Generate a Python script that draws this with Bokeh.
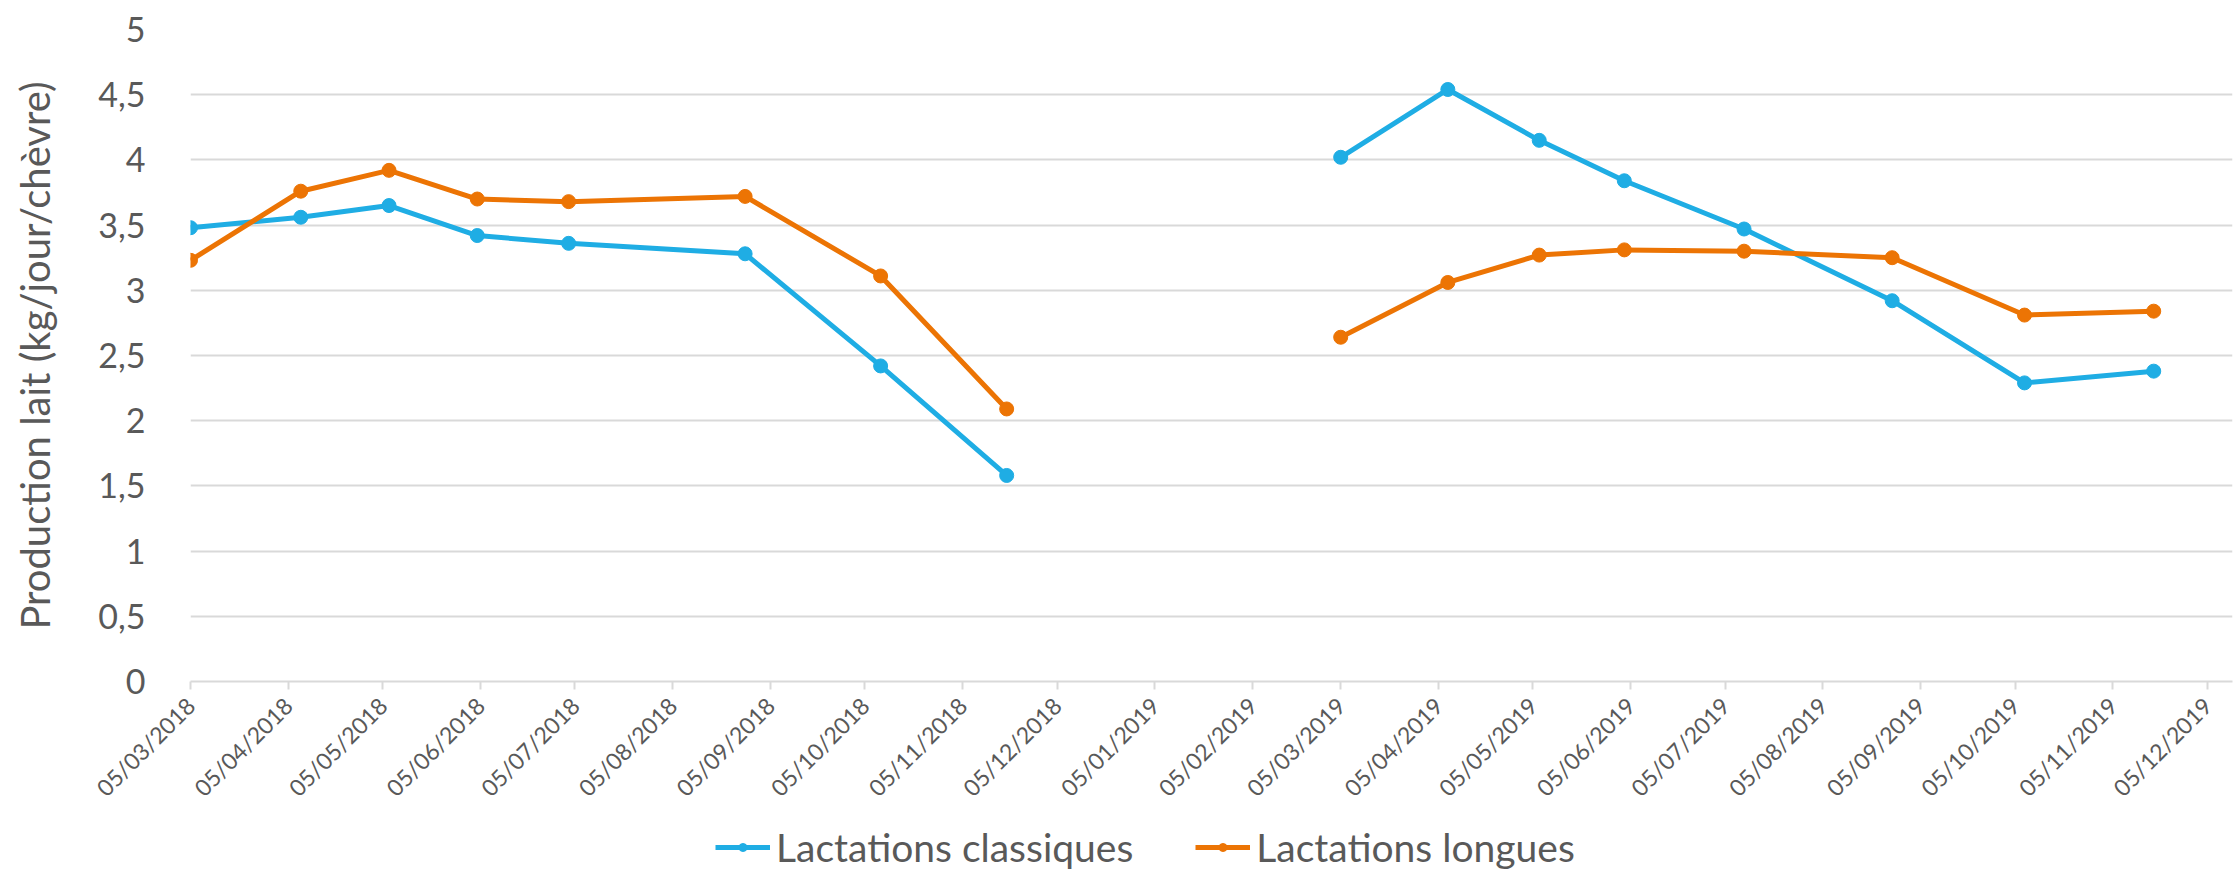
import math
import pandas as pd
from bokeh.plotting import figure
from bokeh.layouts import column
from bokeh.models import FixedTicker, Legend, LegendItem, Range1d
from bokeh.embed import file_html
from bokeh.resources import INLINE

# ---------------- data ----------------
dates_2018 = ["05/03/2018", "09/04/2018", "07/05/2018", "04/06/2018",
              "03/07/2018", "28/08/2018", "10/10/2018", "19/11/2018"]
dates_2019 = ["05/03/2019", "08/04/2019", "07/05/2019", "03/06/2019",
              "11/07/2019", "27/08/2019", "08/10/2019", "18/11/2019"]

classiques_2018 = [3.48, 3.56, 3.65, 3.42, 3.36, 3.28, 2.42, 1.58]
longues_2018 = [3.23, 3.76, 3.92, 3.70, 3.68, 3.72, 3.11, 2.09]
classiques_2019 = [4.02, 4.54, 4.15, 3.84, 3.47, 2.92, 2.29, 2.38]
longues_2019 = [2.64, 3.06, 3.27, 3.31, 3.30, 3.25, 2.81, 2.84]

series_names = ["Lactations classiques", "Lactations longues"]
series_colors = ["#1FADE4", "#EC7404"]

x_tick_labels = ["05/03/2018", "05/04/2018", "05/05/2018", "05/06/2018",
                 "05/07/2018", "05/08/2018", "05/09/2018", "05/10/2018",
                 "05/11/2018", "05/12/2018", "05/01/2019", "05/02/2019",
                 "05/03/2019", "05/04/2019", "05/05/2019", "05/06/2019",
                 "05/07/2019", "05/08/2019", "05/09/2019", "05/10/2019",
                 "05/11/2019", "05/12/2019"]
y_ticks = [0, 0.5, 1, 1.5, 2, 2.5, 3, 3.5, 4, 4.5, 5]
y_tick_labels = ["0", "0,5", "1", "1,5", "2", "2,5", "3", "3,5", "4", "4,5", "5"]
y_label = "Production lait (kg/jour/chèvre)"


def to_dt(lst):
    return list(pd.to_datetime(lst, format="%d/%m/%Y"))


def to_ms(lst):
    return [int(d.value // 10**6) for d in pd.to_datetime(lst, format="%d/%m/%Y")]


FONT = "Lato"
TXT = "#595959"
GRID = "#D9D9D9"
W = 2234

x_tick_ms = to_ms(x_tick_labels)
x_start = pd.to_datetime(x_tick_labels[0], format="%d/%m/%Y")
x_end = pd.to_datetime(x_tick_labels[-1], format="%d/%m/%Y") + pd.Timedelta(days=8)

p = figure(width=W, height=822, x_axis_type="datetime",
           output_backend="svg", toolbar_location=None,
           x_range=Range1d(x_start, x_end), y_range=Range1d(0, 5),
           min_border_left=190, min_border_right=2, min_border_top=29,
           min_border_bottom=141)
p.outline_line_color = None
p.background_fill_color = "white"
p.border_fill_color = "white"

# grid
p.xgrid.grid_line_color = None
p.ygrid.grid_line_color = GRID
p.ygrid.grid_line_width = 2
p.yaxis.ticker = FixedTicker(ticks=y_ticks)
p.ygrid.ticker = FixedTicker(ticks=y_ticks)

# y axis
p.yaxis.major_label_overrides = {t: l for t, l in zip(y_ticks, y_tick_labels)}
p.yaxis.axis_line_color = None
p.yaxis.major_tick_line_color = None
p.yaxis.minor_tick_line_color = None
p.yaxis.major_label_text_font = FONT
p.yaxis.major_label_text_font_size = "34px"
p.yaxis.major_label_text_color = TXT
p.yaxis.major_label_standoff = 39
p.yaxis.axis_label = y_label
p.yaxis.axis_label_text_font = FONT
p.yaxis.axis_label_text_font_size = "40px"
p.yaxis.axis_label_text_font_style = "normal"
p.yaxis.axis_label_text_color = TXT
p.yaxis.axis_label_standoff = 36

# x axis
p.xaxis.ticker = FixedTicker(ticks=x_tick_ms)
p.xaxis.major_label_overrides = {t: l for t, l in zip(x_tick_ms, x_tick_labels)}
p.xaxis.major_label_orientation = math.pi / 4
p.xaxis.axis_line_color = GRID
p.xaxis.axis_line_width = 2
p.xaxis.major_tick_line_color = GRID
p.xaxis.major_tick_line_width = 2
p.xaxis.major_tick_out = 8
p.xaxis.major_tick_in = 0
p.xaxis.minor_tick_line_color = None
p.xaxis.major_label_text_font = FONT
p.xaxis.major_label_text_font_size = "23px"
p.xaxis.major_label_text_color = TXT
p.xaxis.major_label_standoff = 12

# legend strip (separate figure so the legend is not clipped by the frame;
# its frame is aligned with the main frame by the column layout)
lg = figure(width=W, height=48, output_backend="svg", toolbar_location=None,
            x_range=Range1d(0, 1), y_range=Range1d(0, 1),
            x_axis_location=None, y_axis_location=None,
            min_border_left=0, min_border_right=0, min_border_top=0,
            min_border_bottom=0)
lg.outline_line_color = None
lg.xgrid.visible = False
lg.ygrid.visible = False

items = []
for name, color, v18, v19 in zip(series_names, series_colors,
                                  [classiques_2018, longues_2018],
                                  [classiques_2019, longues_2019]):
    for d, v in ((dates_2018, v18), (dates_2019, v19)):
        xs = to_dt(d)
        p.line(xs, v, line_color=color, line_width=5)
        p.scatter(xs, v, size=14, fill_color=color, line_color=color)
    # legend proxies, placed outside the visible range of the strip
    dl = lg.line([-5, -4], [-5, -5], line_color=color, line_width=5)
    ds = lg.scatter([-5], [-5], size=14, fill_color=color, line_color=color)
    items.append(LegendItem(label=name, renderers=[dl, ds]))

legend = Legend(items=items, orientation="horizontal", location=(525, 0),
                label_text_font=FONT, label_text_font_size="39px",
                label_text_color=TXT, glyph_width=55, glyph_height=20,
                label_standoff=6, spacing=62, border_line_color=None,
                background_fill_alpha=0, padding=0, margin=0)
lg.add_layout(legend, "center")

layout = column(p, lg, spacing=0)
open("out.html", "w").write(file_html(layout, INLINE))
